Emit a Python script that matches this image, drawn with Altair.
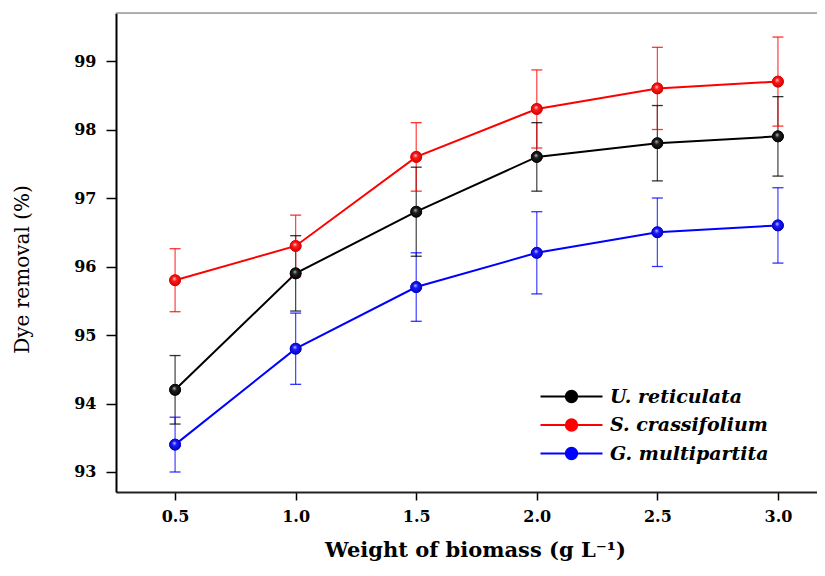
import altair as alt
import pandas as pd

weights = [0.5, 1.0, 1.5, 2.0, 2.5, 3.0]
series_names = ["U. reticulata", "S. crassifolium", "G. multipartita"]
series_colors = ["#000000", "#ff0000", "#0000ff"]

u_reticulata = [94.2, 95.9, 96.8, 97.6, 97.8, 97.9]
u_reticulata_err = [0.5, 0.55, 0.65, 0.5, 0.55, 0.58]
s_crassifolium = [95.8, 96.3, 97.6, 98.3, 98.6, 98.7]
s_crassifolium_err = [0.46, 0.45, 0.5, 0.57, 0.6, 0.65]
g_multipartita = [93.4, 94.8, 95.7, 96.2, 96.5, 96.6]
g_multipartita_err = [0.4, 0.52, 0.5, 0.6, 0.5, 0.55]

x_ticks = [0.5, 1.0, 1.5, 2.0, 2.5, 3.0]
y_ticks = [93, 94, 95, 96, 97, 98, 99]

rows = []
for name, vals, errs in zip(series_names,
                            [u_reticulata, s_crassifolium, g_multipartita],
                            [u_reticulata_err, s_crassifolium_err, g_multipartita_err]):
    for w, v, e in zip(weights, vals, errs):
        rows.append({"weight": w, "removal": v, "lo": v - e, "hi": v + e, "series": name})
df = pd.DataFrame(rows)

W, H = 701, 479
FONT = "DejaVu Serif"

x_scale = alt.Scale(domain=[0.255, 3.162], nice=False, zero=False)
y_scale = alt.Scale(domain=[92.708, 99.701], nice=False, zero=False)
color_scale = alt.Scale(domain=series_names, range=series_colors)

x_axis = alt.Axis(values=x_ticks, format=".1f", title="Weight of biomass (g L⁻¹)",
                  titleFont=FONT, titleFontSize=21, titleFontWeight="bold", titleColor="black",
                  titleX=359, titleY=58, titleAlign="center", titleBaseline="middle",
                  labelFont=FONT, labelFontSize=16, labelFontWeight="bold", labelColor="black",
                  labelPadding=8, tickSize=8, tickWidth=1.5, tickColor="black",
                  domainColor="#222222", domainWidth=2, grid=False, labelFlush=False)
y_axis = alt.Axis(values=y_ticks, format="d", title="Dye removal (%)",
                  titleFont=FONT, titleFontSize=20, titleFontWeight="normal", titleColor="black",
                  titleX=-94, titleY=256, titleAngle=270, titleAlign="center", titleBaseline="middle",
                  labelFont=FONT, labelFontSize=16, labelFontWeight="bold", labelColor="black",
                  labelPadding=10, tickSize=10, tickWidth=1.5, tickColor="black",
                  domainColor="black", domainWidth=2, grid=False, labelFlush=False)

LEG_PATH = "M-3,0H3M0.55,0A0.55,0.55,0,1,1,-0.55,0A0.55,0.55,0,1,1,0.55,0Z"
legend = alt.Legend(title=None, orient="none", legendX=444, legendY=372,
                    symbolType=LEG_PATH, symbolSize=427, symbolStrokeWidth=2,
                    symbolOpacity=1,
                    labelFont=FONT, labelFontSize=19, labelFontWeight="bold",
                    labelFontStyle="italic", labelColor="black", labelOffset=27,
                    rowPadding=6.5, padding=0)

color = alt.Color("series:N", scale=color_scale, legend=legend)
X = alt.X("weight:Q", scale=x_scale, axis=x_axis)

base = alt.Chart(df)

bars = base.mark_rule(strokeWidth=1.2, opacity=0.75).encode(
    x=X, y=alt.Y("lo:Q", scale=y_scale, axis=y_axis), y2="hi:Q", color=color)

caps = base.transform_fold(["lo", "hi"], as_=["end", "val"]).mark_tick(
    orient="horizontal", size=11, thickness=1.3, opacity=0.8).encode(
    x=X, y=alt.Y("val:Q", scale=y_scale, axis=y_axis), color=color, detail="end:N")

lines = base.mark_line(strokeWidth=2).encode(
    x=X, y=alt.Y("removal:Q", scale=y_scale, axis=y_axis), color=color)

# solid points (carry the legend); gradient spheres drawn on top
solid = base.mark_point(filled=True, size=120, opacity=1, strokeWidth=1).encode(
    x=X, y=alt.Y("removal:Q", scale=y_scale, axis=y_axis),
    fill=alt.Fill("series:N", scale=color_scale, legend=legend),
    stroke=alt.Stroke("series:N", scale=color_scale, legend=legend))

grad_stops = {
    "U. reticulata": ["#c8c8c8", "#202020", "#000000"],
    "S. crassifolium": ["#ffd8d8", "#ff1a1a", "#c80000"],
    "G. multipartita": ["#d0d0ff", "#1a1aff", "#0000b0"],
}
points = []
for name in series_names:
    c0, c1, c2 = grad_stops[name]
    grad = {"gradient": "radial", "x1": 0.42, "y1": 0.35, "r1": 0,
            "x2": 0.5, "y2": 0.5, "r2": 0.55,
            "stops": [{"offset": 0, "color": c0}, {"offset": 0.35, "color": c1},
                      {"offset": 1, "color": c2}]}
    points.append(base.transform_filter(alt.datum.series == name).mark_circle(
        size=135, opacity=1, fill=grad).encode(
        x=X, y=alt.Y("removal:Q", scale=y_scale, axis=y_axis)))

top_border = alt.Chart(pd.DataFrame({"k": [0]})).mark_rule(
    color="#999999", strokeWidth=1.5).encode(
    x=alt.value(0), x2=alt.value(W), y=alt.value(0))

chart = alt.layer(top_border, bars, caps, lines, solid, *points).properties(
    width=W, height=H,
    autosize=alt.AutoSizeParams(type="none"),
    padding={"left": 108, "top": 5, "right": 0, "bottom": 74},
).configure_view(stroke=None).configure(background="white")

chart.save("out.html", embed_options={"renderer": "svg", "actions": False})
